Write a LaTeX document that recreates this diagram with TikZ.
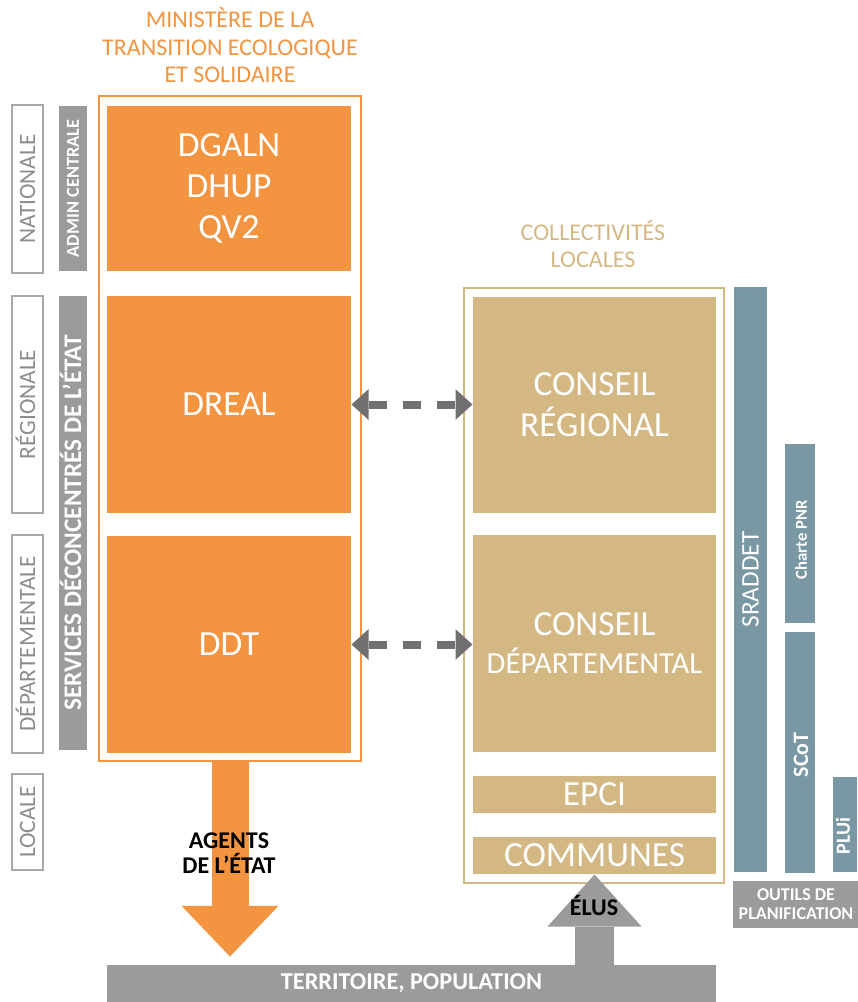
\documentclass[tikz,border=0pt]{standalone}
\usepackage{fontspec}
\setmainfont{Carlito}
\usetikzlibrary{arrows.meta}

\definecolor{mteorange}{RGB}{242,148,64}
\definecolor{coltan}{RGB}{212,184,132}
\definecolor{tooblue}{RGB}{122,152,163}
\definecolor{bargray}{RGB}{155,155,155}
\definecolor{lvlgray}{RGB}{168,168,168}
\definecolor{lvltext}{RGB}{140,140,140}
\definecolor{linkgray}{RGB}{112,112,112}

\tikzset{every picture/.style={line width=0.75pt}}
\tikzset{
  orangebox/.style={fill=mteorange, text=white, minimum width=183pt, inner sep=0pt, align=center, font=\fontsize{26.5}{30.75}\selectfont},
  tanbox/.style={fill=coltan, text=white, minimum width=182.25pt, inner sep=0pt, align=center, font=\fontsize{26.5}{30.75}\selectfont},
  levellabel/.style={draw=lvlgray, line width=1.1pt, text=lvltext, rotate=90, minimum height=23.25pt, inner sep=0pt, text height=11.3pt, text depth=0pt, font=\fontsize{17.5}{20}\selectfont},
  graybar/.style={fill=bargray, text=white, rotate=90, minimum height=21pt, inner sep=0pt, text depth=0pt},
  toolbar/.style={fill=tooblue, text=white, rotate=90, inner sep=0pt, text depth=0pt},
  linkarrow/.style={draw=linkgray, line width=6pt, dash pattern=on 13.5pt off 12pt, {Triangle[length=12.75pt,width=23pt,line width=0pt]}-{Triangle[length=12.75pt,width=23pt,line width=0pt]}},
  agentarrow/.style={draw=mteorange, line width=27.75pt, -{Triangle[length=38pt,width=72.75pt,line width=0pt]}, shorten >=6pt},
  elusarrow/.style={draw=bargray, line width=29pt, -{Triangle[length=39pt,width=70.5pt,line width=0pt]}},
}

\begin{document}
\begin{tikzpicture}[x=0.75pt,y=0.75pt,yscale=-1,xscale=1]
\useasboundingbox (0,0) rectangle (857,1002);

% Text Node
\node (mtetitle) [text=mteorange, align=center, font=\fontsize{18}{20.6}\selectfont] at (230,45.5) {MINISTÈRE DE LA\\TRANSITION ECOLOGIQUE\\ET SOLIDAIRE};

%Shape: Rectangle
\node (mteframe) [draw=mteorange, line width=1.1pt, minimum width=196.5pt, minimum height=498.75pt] at (230,428.5) {};
\node (dgaln) [orangebox, minimum height=123.75pt] at (229,188.5) {DGALN\\DHUP\\QV2};
\node (dreal) [orangebox, minimum height=162.75pt] at (229,404.5) {DREAL};
\node (ddt) [orangebox, minimum height=162.75pt] at (229,644.5) {DDT};

%Shape: Rectangle
\node (nat) [levellabel, minimum width=126pt] at (27.5,189) {NATIONALE};
\node (reg) [levellabel, minimum width=162.75pt] at (27.5,404.5) {RÉGIONALE};
\node (dep) [levellabel, minimum width=163.5pt] at (27.5,644) {DÉPARTEMENTALE};
\node (loc) [levellabel, minimum width=72pt] at (27.5,822) {LOCALE};

%Shape: Rectangle
\node (admin) [graybar, minimum width=123.75pt, text height=8.8pt, font=\bfseries\fontsize{13.7}{16}\selectfont] at (73,188.5) {ADMIN CENTRALE};
\node (services) [graybar, minimum width=340.5pt, text height=12.2pt, font=\bfseries\fontsize{19}{22}\selectfont] at (73,523) {SERVICES DÉCONCENTRÉS DE L’ÉTAT};

% Text Node
\node (coltitle) [text=coltan, align=center, font=\fontsize{18}{20.25}\selectfont] at (593,244.5) {COLLECTIVITÉS\\LOCALES};

%Shape: Rectangle
\node (colframe) [draw=coltan, line width=1.1pt, minimum width=195pt, minimum height=446.25pt] at (594,585.5) {};
\node (creg) [tanbox, minimum height=162pt] at (594.5,405) {CONSEIL\\RÉGIONAL};
\node (cdep) [tanbox, minimum height=162.75pt, font=\fontsize{26.5}{28.5}\selectfont] at (594.5,643.5) {CONSEIL\\{\fontsize{23}{28.5}\selectfont DÉPARTEMENTAL}};
\node (epci) [tanbox, minimum height=27.75pt] at (594.5,794.5) {EPCI};
\node (communes) [tanbox, minimum height=27.75pt] at (594.5,855.5) {COMMUNES};

%Shape: Rectangle
\node (sraddet) [toolbar, minimum width=438.75pt, minimum height=24.75pt, font=\fontsize{19}{22}\selectfont] at (750.5,579.5) {SRADDET};
\node (charte) [toolbar, minimum width=134.25pt, minimum height=22.5pt] at (799.5,533) {};
\node (scot) [toolbar, minimum width=180.75pt, minimum height=22.5pt] at (799.5,752) {};
\node (plui) [toolbar, minimum width=71.25pt, minimum height=18pt] at (845,824.5) {};
\node (chartetxt) [text=white, rotate=90, inner sep=0pt, font=\bfseries\fontsize{12.5}{14}\selectfont] at (801,540) {Charte PNR};
\node (scottxt) [text=white, rotate=90, inner sep=0pt, font=\bfseries\fontsize{16.5}{19}\selectfont] at (801,755) {SCoT};
\node (pluitxt) [text=white, rotate=90, inner sep=0pt, font=\bfseries\fontsize{15}{17}\selectfont] at (843,836) {PLUi};
\node (outils) [fill=bargray, text=white, align=center, minimum width=94.5pt, minimum height=35.25pt, inner sep=0pt, font=\bfseries\fontsize{13.5}{14.25}\selectfont] at (796,904.5) {OUTILS DE\\PLANIFICATION};

%Shape: Rectangle
\node (terr) [fill=bargray, text=white, minimum width=456.75pt, minimum height=27.75pt, inner sep=0pt, font=\bfseries\fontsize{18.2}{21}\selectfont] at (411.5,983.5) {TERRITOIRE, POPULATION};

%Straight Lines
\draw [linkarrow] (dreal.east) -- (dreal.east -| creg.west);
\draw [linkarrow] (ddt.east) -- (ddt.east -| cdep.west);
\draw [agentarrow] (mteframe.south) -- (mteframe.south |- terr.north);
\draw [elusarrow] (communes.south |- terr.north) -- (communes.south);

% Text Node
\node (agents) [align=center, font=\bfseries\fontsize{18}{18.75}\selectfont] at (229,853.5) {AGENTS\\DE L’ÉTAT};
\node (elus) [text height=11.6pt, text depth=0pt, font=\bfseries\fontsize{18}{21}\selectfont] at (594,908) {ÉLUS};

\end{tikzpicture}
\end{document}
